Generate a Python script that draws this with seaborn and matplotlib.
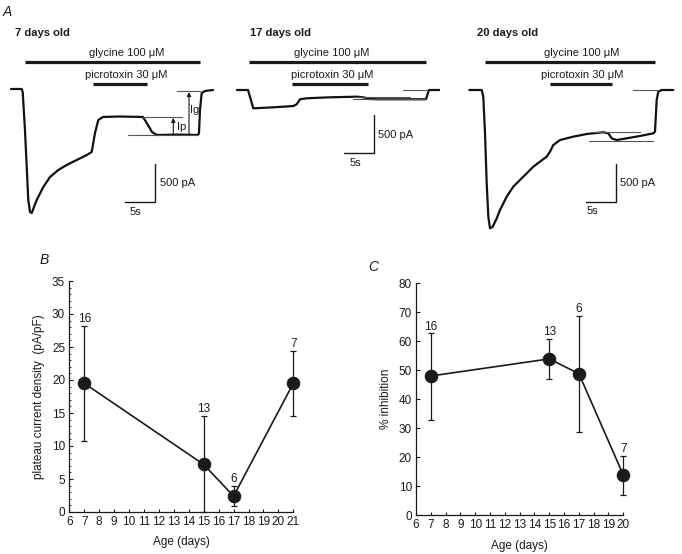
import matplotlib

matplotlib.use("Agg")

import matplotlib.pyplot as plt
import numpy as np
import pandas as pd
import seaborn as sns
from matplotlib.ticker import MultipleLocator

sns.set_theme(style="ticks")
plt.rcParams["font.family"] = ["Liberation Sans", "DejaVu Sans"]
plt.rcParams.update({"axes.linewidth": 0.9, "xtick.major.width": 0.8, "ytick.major.width": 0.8,
                     "ytick.minor.width": 0.6, "xtick.color": "k", "ytick.color": "k",
                     "axes.edgecolor": "k", "text.color": "k", "axes.labelcolor": "k"})

W, H = 682, 554
PX_PER_S = 6.0          # trace time scale
PA_PER_PX = 500 / 38.0  # trace current scale

# --- panel A: whole-cell currents (time in s, current in pA) ---
T7_T = [0, 1.78, 1.95, 2.33, 2.88, 3.17, 3.45, 4.28, 5.38, 6.5, 7.88, 9.28, 10.95, 12.62, 13.45,
        14.0, 14.55, 15.33, 18.0, 22.0, 22.83, 23.5, 24.33, 28.0, 31.17, 31.33, 31.5, 31.78, 32.33, 33.67]
T7_I = [0, 0, -39, -540, -1461, -1619, -1632, -1461, -1290, -1158, -1066, -1000, -934, -869, -829,
        -579, -408, -368, -362, -368, -474, -566, -605, -600, -605, -579, -276, -53, -26, -13]

T17_T = [0, 1.83, 2.17, 2.72, 6.05, 9.38, 9.95, 10.5, 11.62, 15.5, 19.95, 21.05, 22.17, 23.28,
         31.5, 31.72, 32.0, 33.72]
T17_I = [0, 0, -92, -241, -228, -211, -188, -122, -109, -96, -88, -96, -118, -122,
         -122, -66, 0, 0]

T20_T = [0, 2.07, 2.33, 2.62, 2.9, 3.17, 3.45, 3.9, 4.57, 5.12, 6.23, 7.33, 8.45, 9.57, 10.67,
         11.78, 12.9, 13.45, 14.0, 15.12, 17.33, 19.57, 22.33, 23.17, 23.73, 24.57, 26.23, 28.45,
         30.67, 30.95, 31.23, 31.5, 32.07, 34.0]
T20_I = [0, 0, -88, -570, -1228, -1667, -1820, -1799, -1689, -1579, -1404, -1272, -1184, -1096, -1009,
         -943, -877, -811, -724, -658, -614, -579, -556, -570, -636, -658, -636, -605,
         -570, -548, -132, -22, 0, 0]

GLY_ON = [2.33, 2.0, 2.62]
GLY_OFF = [31.5, 31.5, 30.95]
PTX_ON = [13.67, 9.17, 13.45]
PTX_OFF = [22.67, 21.83, 23.78]
AGE_LABELS = ["7 days old", "17 days old", "20 days old"]

# reference levels drawn on each trace: (t_start, t_end, current)
REF7 = [(22.05, 28.45, -364), (19.55, 31.2, -605), (27.6, 31.5, -22)]
REF17 = [(19.4, 28.8, -88), (19.4, 31.5, -118), (27.7, 31.7, 0)]
REF20 = [(20.4, 28.5, -549), (19.95, 30.67, -671), (27.33, 31.23, 0)]

# --- panel B: plateau current density ---
AGE_B = [7, 15, 17, 21]
DENS_B = [19.5, 7.2, 2.4, 19.5]
DENS_LO = [10.8, 0.0, 0.9, 14.5]
DENS_HI = [28.2, 14.6, 4.0, 24.4]
N_B = [16, 13, 6, 7]

# --- panel C: % inhibition by picrotoxin ---
AGE_C = [7, 15, 17, 20]
INH_C = [48.0, 53.9, 48.8, 13.8]
INH_LO = [32.8, 46.8, 28.8, 6.9]
INH_HI = [62.7, 60.8, 68.7, 20.5]
N_C = [16, 13, 6, 7]


fig = plt.figure(figsize=(W / 100, H / 100), dpi=100)
fig.patch.set_facecolor("white")


def ftext(x, y, s, **kw):
    kw.setdefault("fontsize", 8)
    fig.text(x / W, 1 - y / H, s, va="center", **kw)


def trace_axes(left, right, x0, y0, top=0, bottom=245):
    ax = fig.add_axes([left / W, 1 - bottom / H, (right - left) / W, (bottom - top) / H])
    ax.set_xlim((left - x0) / PX_PER_S, (right - x0) / PX_PER_S)
    ax.set_ylim(-(bottom - y0) * PA_PER_PX, (y0 - top) * PA_PER_PX)
    ax.axis("off")
    return ax


def draw_trace(ax, t, cur, k, refs, y0, scale_corner):
    sns.lineplot(x=t, y=cur, ax=ax, color="#111111", lw=1.6, sort=False, estimator=None)
    gly_lvl = (y0 - 62) * PA_PER_PX
    ptx_lvl = (y0 - 83.5) * PA_PER_PX
    ax.plot([GLY_ON[k], GLY_OFF[k]], [gly_lvl, gly_lvl], color="k", lw=2.3, solid_capstyle="butt")
    ax.plot([PTX_ON[k], PTX_OFF[k]], [ptx_lvl, ptx_lvl], color="k", lw=2.3, solid_capstyle="butt")
    for t0, t1, lvl in refs:
        ax.plot([t0, t1], [lvl, lvl], color="#555555", lw=0.8)
    tc, ic = scale_corner
    ax.plot([tc - 5, tc, tc], [ic, ic, ic + 500], color="k", lw=1.0)


ax1 = trace_axes(0, 226, 11, 89)
draw_trace(ax1, T7_T, T7_I, 0, REF7, 89, (24.0, -1483))
arrow = dict(arrowstyle="-|>", lw=0.8, color="k", mutation_scale=6, shrinkA=0, shrinkB=0)
ax1.annotate("", xy=(27.05, -380), xytext=(27.05, -605), arrowprops=arrow)
ax1.annotate("", xy=(29.67, -40), xytext=(29.67, -605), arrowprops=arrow)
ftext(176.5, 126.5, "Ip")
ftext(190.5, 110.5, "Ig")

ax2 = trace_axes(228, 440, 237, 90)
draw_trace(ax2, T17_T, T17_I, 1, REF17, 90, (22.9, -833))

ax3 = trace_axes(440, 682, 469.3, 90)
draw_trace(ax3, T20_T, T20_I, 2, REF20, 90, (24.4, -1478))

ftext(3, 12.5, "A", fontsize=10, style="italic")
for (x, lab) in zip([15, 250.5, 476.5], AGE_LABELS):
    ftext(x, 33.5, lab, fontweight="bold")
for x in [126.3, 331.7, 581.7]:
    ftext(x, 53.3, "glycine 100 \u03bcM", ha="center")
    ftext(x, 75, "picrotoxin 30 \u03bcM", ha="center")
for (xs, ys, xt, yt) in [(159.5, 183.3, 135, 211.7), (378.5, 135, 355, 163.5), (620, 182.7, 592, 210.7)]:
    ftext(xs, ys, "500 pA")
    ftext(xt, yt, "5s", ha="center")


def summary_axes(rect_px, ages, vals, lo, hi, ns, xmax, ymax, ystep, ylabel, minor):
    l, t, r, b = rect_px
    ax = fig.add_axes([l / W, 1 - b / H, (r - l) / W, (b - t) / H])
    df = pd.DataFrame({"age": ages, "val": vals})
    sns.lineplot(data=df, x="age", y="val", ax=ax, color="k", lw=1.2, marker="o", markersize=9,
                 markeredgecolor="k", markerfacecolor="k", clip_on=False, zorder=4)
    v = np.array(vals)
    ax.errorbar(ages, vals, yerr=[v - np.array(lo), np.array(hi) - v], fmt="none", ecolor="k",
                elinewidth=0.9, capsize=2.2, capthick=0.9, clip_on=False, zorder=3)
    for a, h, n in zip(ages, hi, ns):
        ax.annotate(str(n), (a, h), xytext=(0, 0.5), textcoords="offset points",
                    ha="center", va="bottom", fontsize=8.5)
    ax.set_xlim(6, xmax)
    ax.set_ylim(0, ymax)
    ax.set_xticks(range(6, xmax + 1))
    ax.yaxis.set_major_locator(MultipleLocator(ystep))
    if minor:
        ax.yaxis.set_minor_locator(MultipleLocator(1))
    ax.tick_params(axis="both", which="major", direction="in", length=3, pad=3, labelsize=8.5)
    ax.tick_params(axis="x", which="major", length=2.5, pad=3)
    ax.tick_params(axis="y", which="minor", direction="in", length=1.5)
    ax.set_xlabel("Age (days)", fontsize=8.5, labelpad=6)
    ax.set_ylabel(ylabel, fontsize=8.5, labelpad=5)
    ax.set_facecolor("none")
    sns.despine(ax=ax)
    return ax


axB = summary_axes((69.3, 281, 293.3, 512), AGE_B, DENS_B, DENS_LO, DENS_HI, N_B, 21, 35, 5,
                   "plateau current density  (pA/pF)", True)
axC = summary_axes((416, 283.3, 623.3, 515), AGE_C, INH_C, INH_LO, INH_HI, N_C, 20, 80, 10,
                   "% inhibition", False)
ftext(40, 260, "B", fontsize=10, style="italic")
ftext(368, 267, "C", fontsize=10, style="italic")

fig.savefig("out.png", dpi=100, facecolor="white")
